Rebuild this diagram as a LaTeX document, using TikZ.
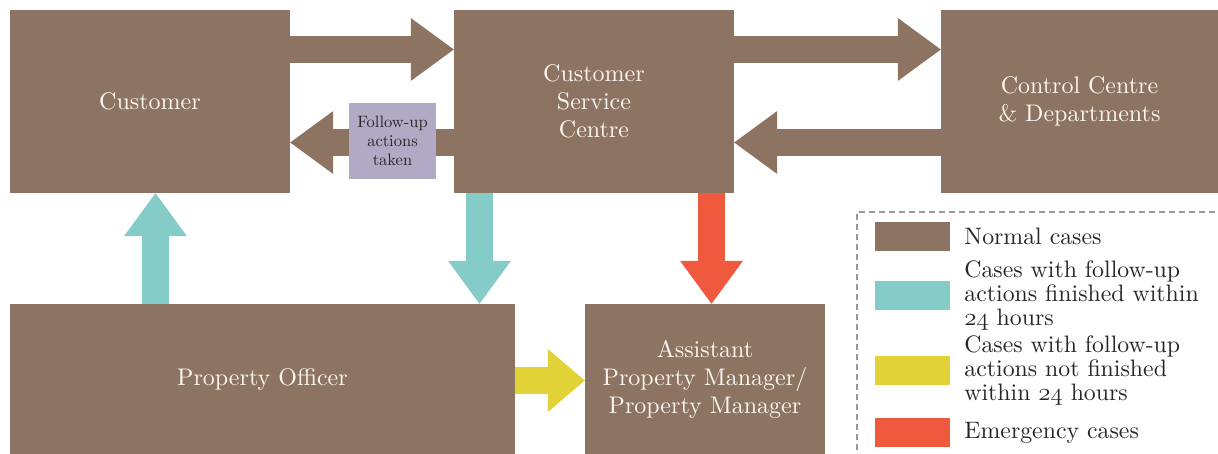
\documentclass[tikz,border=0pt]{standalone}
\usepackage{fontspec}
\setmainfont{lmroman10-regular}[Extension=.otf]
\usepackage{xcolor}
\usepackage{tikz}
\usetikzlibrary{arrows.meta,positioning,calc}

\definecolor{normalbrown}{HTML}{8D7362}
\definecolor{quickteal}{HTML}{85CBC7}
\definecolor{slowyellow}{HTML}{E0D237}
\definecolor{urgentred}{HTML}{EF5A3E}
\definecolor{noteviolet}{HTML}{B0AAC4}
\definecolor{inktext}{HTML}{2A2524}
\definecolor{boxtext}{HTML}{FBF7F0}

% old-style figures from the math italic font
\newcommand{\hoursnum}[1]{{\usefont{OML}{lmm}{m}{it}#1}}

\tikzset{
  unitbox/.style={fill=normalbrown, text=boxtext, align=center, inner sep=0pt,
    font=\fontsize{24}{28}\selectfont},
  fatarrow/.style={line width=27pt, -{Triangle[length=43pt,width=63pt,line width=0pt]}},
  swatch/.style={minimum width=75pt, minimum height=29pt, inner sep=0pt},
  keytext/.style={text=inktext, align=left, anchor=west, inner sep=0pt,
    font=\fontsize{23.8}{24}\selectfont}
}

\begin{document}
\begin{tikzpicture}[x=1pt, y=-1pt]
  \useasboundingbox (0,0) rectangle (1218,454);

  % units
  \node[unitbox, minimum width=280pt, minimum height=183pt] (cust) at (150,101.5) {Customer};
  \node[unitbox, minimum width=280pt, minimum height=183pt] (csc) at (594,101.5) {Customer\\Service\\Centre};
  \node[unitbox, minimum width=277pt, minimum height=183pt] (ctrl) at (1079.5,101.5) {Control Centre\\\& Departments};
  \node[unitbox, minimum width=505pt, minimum height=150pt] (po) at (262.5,379) {Property Officer};
  \node[unitbox, minimum width=240pt, minimum height=150pt] (apm) at (705,379) {Assistant\\Property Manager/\\Property Manager};

  % normal flow
  \draw[fatarrow, normalbrown] ([yshift=52pt]cust.east) -- ([yshift=52pt]csc.west);
  \draw[fatarrow, normalbrown] ([yshift=-41pt]csc.west) -- ([yshift=-41pt]cust.east);
  \draw[fatarrow, normalbrown] ([yshift=52pt]csc.east) -- ([yshift=52pt]ctrl.west);
  \draw[fatarrow, normalbrown] ([yshift=-41pt]ctrl.west) -- ([yshift=-41pt]csc.east);
  \node[fill=noteviolet, text=inktext, align=center, inner sep=0pt,
        minimum width=87pt, minimum height=76pt, font=\fontsize{16.5}{19}\selectfont]
        (follow) at (392.5,141) {Follow-up\\actions\\taken};

  % follow-up and emergency flow
  \draw[fatarrow, quickteal] ([xshift=5.5pt]cust.south |- po.north) -- ([xshift=5.5pt]cust.south);
  \draw[fatarrow, quickteal] ([xshift=-114.5pt]csc.south) -- ([xshift=-114.5pt]csc.south |- po.north);
  \draw[fatarrow, urgentred] ([xshift=6.5pt]apm.north |- csc.south) -- ([xshift=6.5pt]apm.north);
  \draw[fatarrow, slowyellow, -{Triangle[length=37pt,width=63pt,line width=0pt]}]
    ([yshift=-1.5pt]po.east) -- ([yshift=-1.5pt]po.east -| apm.west);

  % legend
  \draw[gray!80, line width=1.3pt, dash pattern=on 6pt off 4pt] (1225,212) -- (857,212) -- (857,460);
  \node[swatch, fill=normalbrown] (kn) at (912.5,236.5) {};
  \node[swatch, fill=quickteal] (kq) at (912.5,295.5) {};
  \node[swatch, fill=slowyellow] (ks) at (912.5,370.5) {};
  \node[swatch, fill=urgentred] (ku) at (912.5,432.5) {};
  \node[keytext, right=14pt of kn] {Normal cases};
  \node[keytext, right=14pt of kq] {Cases with follow-up\\actions finished within\\\hoursnum{24} hours};
  \node[keytext, right=14pt of ks] {Cases with follow-up\\actions not finished\\within \hoursnum{24} hours};
  \node[keytext, right=14pt of ku] {Emergency cases};
\end{tikzpicture}
\end{document}
